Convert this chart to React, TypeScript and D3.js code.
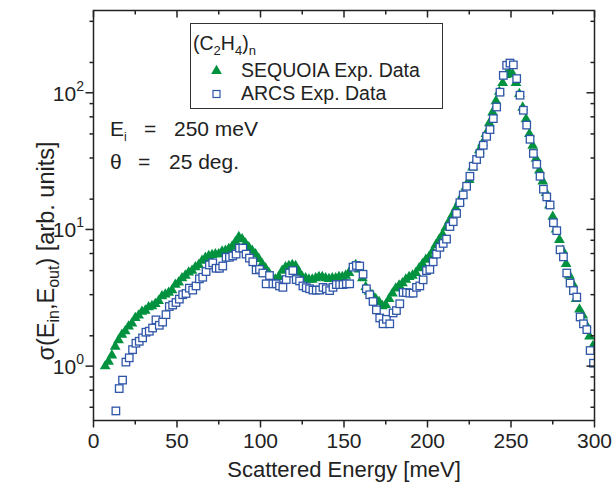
import React from 'react';
import * as d3 from 'd3';

// ---------- data ----------
// SEQUOIA energies: 7, 9, ..., 299 meV (bin grid)
const sequoiaEnergy: number[] = d3.range(7, 300, 2);
const sequoiaValues: number[] = [
  1.0, 1.08, 1.2, 1.39, 1.55, 1.7, 1.8, 1.95, 2.05, 2.25,
  2.35, 2.5, 2.55, 2.7, 2.75, 2.85, 3.0, 3.25, 3.35, 3.45,
  3.6, 3.95, 4.1, 4.4, 4.6, 4.85, 5.0, 5.3, 5.5, 5.9,
  6.2, 6.4, 6.5, 6.6, 6.6, 6.9, 7.0, 7.2, 7.5, 8.1,
  8.8, 8.5, 7.9, 7.4, 7.0, 6.6, 6.1, 5.6, 5.2, 4.8,
  4.5, 4.3, 4.5, 5.0, 5.3, 5.4, 5.5, 5.4, 4.9, 4.5,
  4.4, 4.3, 4.3, 4.4, 4.5, 4.5, 4.4, 4.35, 4.4, 4.4,
  4.5, 4.5, 4.6, 4.8, 5.3, 5.5, 5.1, 4.4, 3.8, 3.5,
  3.3, 3.1, 2.95, 2.75, 2.8, 3.1, 3.4, 3.7, 3.9, 4.05,
  4.3, 4.5, 4.6, 4.8, 5.2, 5.6, 6.0, 6.3, 6.9, 7.7,
  8.4, 9.2, 10.3, 11.5, 12.8, 14.3, 16.0, 17.8, 20.5, 23,
  28.5, 32, 38, 43, 50, 60, 72, 87, 102, 118,
  135, 142, 137, 118, 98, 78, 64, 50, 41, 33,
  27, 22.5, 18.5, 15, 12.4, 10, 8.4, 7.0, 5.6, 4.6,
  4.0, 3.1, 2.6, 2.35, 2.0, 1.65, 1.4,
];

// ARCS energies: 13.4, 15.4, ..., 299.4 meV (bin grid)
const arcsEnergy: number[] = d3.range(13.4, 300, 2);
const arcsValues: number[] = [
  0.47, 0.685, 0.79, 1.07, 1.15, 1.32, 1.47, 1.52, 1.61, 1.77,
  1.8, 1.9, 2.18, 1.99, 2.1, 2.38, 2.73, 2.8, 2.92, 3.09,
  3.33, 3.4, 3.72, 3.6, 3.86, 4.35, 4.47, 4.92, 5.5, 5.7,
  5.2, 5.2, 5.4, 6.26, 6.26, 6.4, 6.6, 7.3, 7.3, 6.6,
  6.17, 5.8, 5.06, 5.1, 4.8, 4.0, 4.6, 4.0, 4.0, 3.86,
  3.77, 4.3, 4.8, 5.0, 4.3, 4.2, 3.86, 3.75, 3.68, 3.6,
  3.6, 3.6, 3.77, 3.68, 3.57, 3.77, 3.95, 3.95, 3.95, 4.0,
  4.0, 5.3, 5.45, 5.4, 4.7, 3.68, 3.33, 2.97, 2.58, 2.25,
  2.04, 2.2, 2.04, 2.45, 2.55, 2.86, 3.46, 3.45, 3.42, 3.42,
  3.77, 3.86, 4.28, 5.0, 5.1, 5.8, 6.6, 7.4, 7.9, 8.5,
  10.5, 11.4, 13.1, 15.7, 17.9, 20.7, 24.5, 29, 32.5, 36,
  41.3, 48, 53.8, 64.7, 78.7, 101, 134, 159, 165, 160,
  127, 96, 74.5, 58, 45.7, 36, 30, 24.5, 19.7, 17.3,
  15.1, 11.2, 9.8, 7.1, 6.3, 4.8, 4.05, 3.57, 3.2, 2.29,
  2.04, 1.85, 1.3, 1.05,
];

const xTickValues = [0, 50, 100, 150, 200, 250, 300];
const xMinorValues = [25, 75, 125, 175, 225, 275];
const yTickValues = [1, 10, 100];
const yTickExponents = ['0', '1', '2'];

const GREEN = '#00923f';
const BLUE = '#2f56a8';
const FONT = '"Liberation Sans", Arial, Helvetica, sans-serif';

export default function App() {
  const L = 93.5, R = 594.5, T = 10.5, B = 420.5;
  const x = d3.scaleLinear().domain([0, 300]).range([L, R]);
  const y = d3.scaleLog().domain([0.4, 400]).range([B, T]);

  // minor log ticks: 5 per decade at k/6 of the next decade
  const yMinor: number[] = [];
  for (let p = -1; p <= 2; p++) {
    for (let k = 1; k <= 5; k++) {
      const v = (k / 6) * Math.pow(10, p + 1);
      if (v >= 0.4 && v <= 400 && Math.abs(Math.log10(v) - Math.round(Math.log10(v))) > 1e-6) yMinor.push(v);
    }
  }

  const tri = d3.symbol(d3.symbolTriangle, 50)();
  const seq = sequoiaEnergy.map((e, i) => ({ e, v: sequoiaValues[i] }));
  const arcs = arcsEnergy.map((e, i) => ({ e, v: arcsValues[i] }));
  const sq = 7.5;

  return (
    <svg width={612} height={495} style={{ position: 'absolute', left: 0, top: 0 }} fontFamily={FONT}>
      <rect x={0} y={0} width={612} height={495} fill="#fff" />
      <defs>
        <clipPath id="plotclip">
          <rect x={L} y={T} width={R - L} height={B - T} />
        </clipPath>
      </defs>

      {/* data */}
      <g clipPath="url(#plotclip)">
        {seq.map((d, i) => (
          <path key={'s' + i} d={tri as string} transform={`translate(${x(d.e)},${y(d.v)})`} fill={GREEN} />
        ))}
        {arcs.map((d, i) => (
          <rect key={'a' + i} x={x(d.e) - sq / 2} y={y(d.v) - sq / 2} width={sq} height={sq}
            fill="#fff" stroke={BLUE} strokeWidth={1.3} />
        ))}
      </g>

      {/* frame */}
      <rect x={L} y={T} width={R - L} height={B - T} fill="none" stroke="#222" strokeWidth={1.5} />

      {/* x ticks bottom (outward) and top (inward) */}
      {xTickValues.map((v) => (
        <g key={'xt' + v}>
          <line x1={x(v)} x2={x(v)} y1={B} y2={B + 7} stroke="#222" strokeWidth={1.5} />
          <line x1={x(v)} x2={x(v)} y1={T} y2={T + 7} stroke="#222" strokeWidth={1.5} />
          <text x={x(v)} y={448} textAnchor="middle" fontSize={21} fill="#222">{v}</text>
        </g>
      ))}
      {xMinorValues.map((v) => (
        <g key={'xm' + v}>
          <line x1={x(v)} x2={x(v)} y1={B} y2={B + 4} stroke="#222" strokeWidth={1.5} />
          <line x1={x(v)} x2={x(v)} y1={T} y2={T + 4} stroke="#222" strokeWidth={1.5} />
        </g>
      ))}

      {/* y ticks left (outward) and right (inward) */}
      {yTickValues.map((v, i) => (
        <g key={'yt' + v}>
          <line x1={L - 8} x2={L} y1={y(v)} y2={y(v)} stroke="#222" strokeWidth={1.5} />
          <line x1={R - 8} x2={R} y1={y(v)} y2={y(v)} stroke="#222" strokeWidth={1.5} />
          <text x={84} y={y(v) + 8} textAnchor="end" fontSize={21} fill="#222">
            10<tspan fontSize={14} dy={-10}>{yTickExponents[i]}</tspan>
          </text>
        </g>
      ))}
      {yMinor.map((v, i) => (
        <g key={'ym' + i}>
          <line x1={L - 4} x2={L} y1={y(v)} y2={y(v)} stroke="#222" strokeWidth={1.5} />
          <line x1={R - 4} x2={R} y1={y(v)} y2={y(v)} stroke="#222" strokeWidth={1.5} />
        </g>
      ))}

      {/* axis titles */}
      <text x={(L + R) / 2} y={477} textAnchor="middle" fontSize={22} fill="#222">Scattered Energy [meV]</text>
      <text transform="translate(54,251) rotate(-90)" textAnchor="middle" fontSize={23.5} fill="#222">
        σ(E<tspan fontSize={16} dy={5}>in</tspan><tspan dy={-5}>,E</tspan><tspan fontSize={16} dy={5}>out</tspan><tspan dy={-5}>) [arb. units]</tspan>
      </text>

      {/* legend */}
      <rect x={190.5} y={23.5} width={252} height={85} fill="#fff" stroke="#333" strokeWidth={1} />
      <text x={193} y={50} fontSize={19.5} fill="#222">
        (C<tspan fontSize={13} dy={5}>2</tspan><tspan dy={-5}>H</tspan><tspan fontSize={13} dy={5}>4</tspan><tspan dy={-5}>)</tspan><tspan fontSize={13} dy={5}>n</tspan>
      </text>
      <path d={tri as string} transform="translate(216.5,71)" fill={GREEN} />
      <text x={241} y={77} fontSize={19.5} fill="#222">SEQUOIA Exp. Data</text>
      <rect x={216.5 - 3.5} y={94 - 3.5} width={7} height={7} fill="#fff" stroke={BLUE} strokeWidth={1.2} />
      <text x={241} y={100} fontSize={19.5} fill="#222">ARCS Exp. Data</text>

      {/* annotations */}
      <text x={110} y={136} fontSize={21} fill="#222">
        E<tspan fontSize={12} dy={5}>i</tspan>
      </text>
      <text x={144} y={136} fontSize={21} fill="#222">=</text>
      <text x={174} y={136} fontSize={21} fill="#222">250 meV</text>
      <text x={110} y={169} fontSize={21} fill="#222">θ</text>
      <text x={138} y={169} fontSize={21} fill="#222">=</text>
      <text x={169} y={169} fontSize={21} fill="#222">25 deg.</text>
    </svg>
  );
}
